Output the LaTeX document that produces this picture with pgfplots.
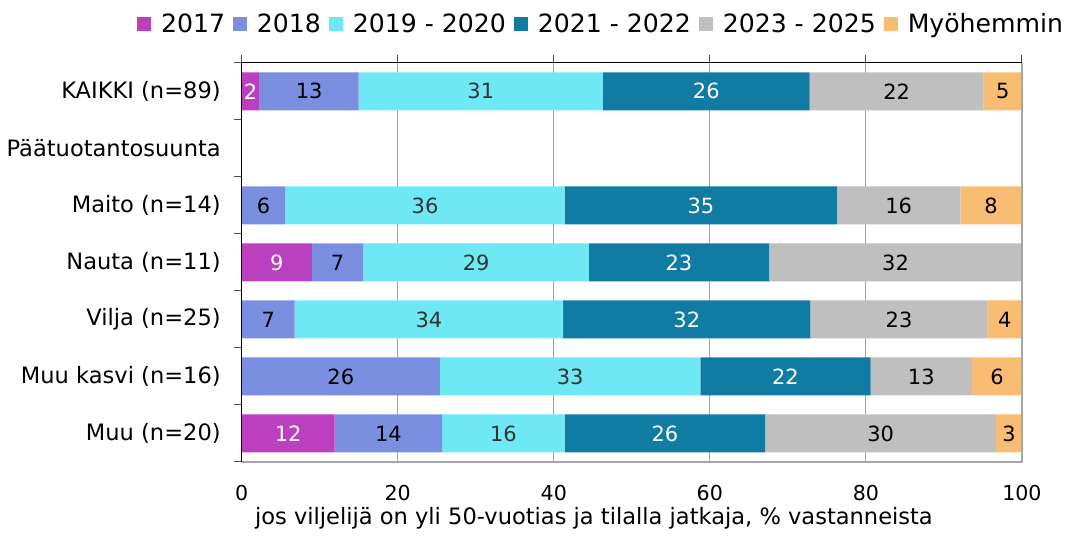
\documentclass[border=0pt]{standalone}
\usepackage{fontspec}
\setmainfont{DejaVu Sans}
\usepackage{pgfplots}
\pgfplotsset{compat=1.18}

\definecolor{c17}{HTML}{BB40BF}
\definecolor{c18}{HTML}{7A8FE0}
\definecolor{c19}{HTML}{6EE8F5}
\definecolor{c21}{HTML}{107BA3}
\definecolor{c23}{HTML}{BFBFBF}
\definecolor{cmy}{HTML}{F9BC73}
\definecolor{gridc}{HTML}{A6A6A6}

\begin{document}
\begin{tikzpicture}
\begin{axis}[
    scale only axis,
    width=391pt, height=200pt,
    xbar stacked,
    bar width=19pt,
    xmin=0, xmax=100,
    ymin=-0.5, ymax=6.5,
    y dir=reverse,
    xtick={0,20,...,100},
    xtick pos=right,
    xticklabel pos=left,
    xmajorgrids,
    grid style={gridc, line width=0.6pt},
    ytick={-0.5,0.5,...,6.5},
    y tick label as interval,
    yticklabels={KAIKKI (n=89),Päätuotantosuunta,Maito (n=14),Nauta (n=11),Vilja (n=25),Muu kasvi (n=16),Muu (n=20)},
    ytick pos=left,
    tick align=outside,
    major tick length=4pt,
    tick style={black!70, line width=0.5pt},
    xticklabel style={font=\fontsize{10.3}{12}\selectfont, yshift=-4pt},
    yticklabel style={font=\fontsize{11.3}{13}\selectfont, xshift=-3pt},
    /pgf/number format/assume math mode=true,
    axis line style={draw=none},
    xlabel={jos viljelijä on yli 50-vuotias ja tilalla jatkaja, \% vastanneista},
    xlabel style={font=\fontsize{11.3}{13}\selectfont, yshift=3.5pt, xshift=-19pt},
    point meta=explicit symbolic,
    visualization depends on={rawx \as \rawx},
    nodes near coords={\ifdim\rawx pt<0.05pt\else\pgfplotspointmeta\fi},
    nodes near coords style={anchor=center, font=\fontsize{10.5}{12}\selectfont},
    legend columns=6,
    legend style={at={(1.066,1.145)}, anchor=north east, draw=none, fill=none,
        font=\fontsize{12.6}{15}\selectfont,
        /tikz/every even column/.append style={column sep=2pt}},
    legend image code/.code={\fill[#1] (0pt,-3.5pt) rectangle (7pt,3.5pt); \path (10pt,0pt);},
    after end axis/.code={
        \draw[gridc, line width=0.6pt] (rel axis cs:1,1) -- (rel axis cs:1,0) -- (rel axis cs:0,0);
        \draw[black, line width=0.6pt] (rel axis cs:0,0) -- (rel axis cs:0,1) -- (rel axis cs:1,1);
        \path (rel axis cs:-0.3082,-0.17) rectangle (rel axis cs:1.064,1.1575);
    },
]
\addplot[fill=c17, draw=none, nodes near coords style={text=white}] coordinates {
    (2.3,0) [2] (0,2) [0] (9.0,3) [9] (0,4) [0] (0,5) [0] (11.9,6) [12]};
\addplot[fill=c18, draw=none, nodes near coords style={text=black}] coordinates {
    (12.7,0) [13] (5.6,2) [6] (6.6,3) [7] (6.8,4) [7] (25.4,5) [26] (13.8,6) [14]};
\addplot[fill=c19, draw=none, nodes near coords style={text=black!80}] coordinates {
    (31.3,0) [31] (35.8,2) [36] (28.9,3) [29] (34.4,4) [34] (33.4,5) [33] (15.7,6) [16]};
\addplot[fill=c21, draw=none, nodes near coords style={text=white}] coordinates {
    (26.5,0) [26] (34.9,2) [35] (23.1,3) [23] (31.7,4) [32] (21.8,5) [22] (25.7,6) [26]};
\addplot[fill=c23, draw=none, nodes near coords style={text=black}] coordinates {
    (22.3,0) [22] (15.8,2) [16] (32.4,3) [32] (22.7,4) [23] (13.0,5) [13] (29.6,6) [30]};
\addplot[fill=cmy, draw=none, nodes near coords style={text=black}] coordinates {
    (4.9,0) [5] (7.9,2) [8] (0,3) [0] (4.4,4) [4] (6.4,5) [6] (3.3,6) [3]};
\legend{2017,2018,2019 - 2020,2021 - 2022,2023 - 2025,Myöhemmin}
\end{axis}
\end{tikzpicture}
\end{document}
